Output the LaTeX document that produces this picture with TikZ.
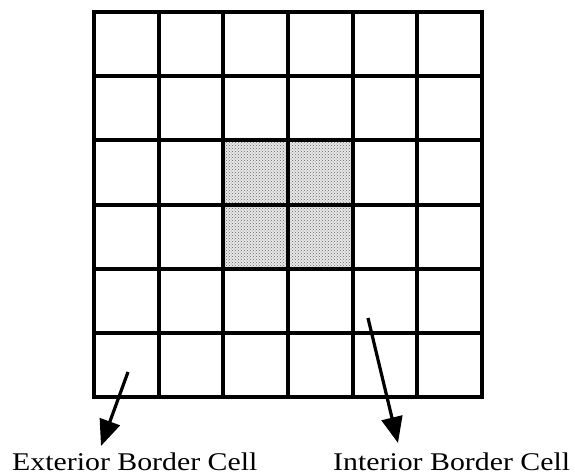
\documentclass[tikz,border=0pt]{standalone}
\usepackage{fontspec}
\setmainfont{Liberation Serif}
\newfontfamily\lblfont[FakeStretch=1.17]{Liberation Serif}
\usetikzlibrary{arrows.meta,patterns}
\begin{document}
\begin{tikzpicture}[x=1pt,y=-1pt,
  gridline/.style={line width=4pt,line cap=rect},
  outerline/.style={line width=3.4pt},
  shade/.style={fill=gray!18,postaction={pattern=crosshatch dots,pattern color=gray!80!black}},
  arr/.style={line width=3.2pt,-{Triangle[width=21pt,length=26pt]}},
  lbl/.style={font=\lblfont\fontsize{25.5}{30}\selectfont,anchor=base west,inner sep=0pt}]
\useasboundingbox (0,0) rectangle (575,474);
% shaded cells
\fill[shade] (223.3,140.4) rectangle (352.7,268.6);
% grid
\foreach \i in {1,...,5} {
  \draw[gridline] ({94+\i*64.67},12) -- ({94+\i*64.67},397);
  \draw[gridline] (94,{12+\i*64.17}) -- (482,{12+\i*64.17});
}
\draw[outerline] (94,12) rectangle (482,397);
% labels
\node[lbl] (ext) at (12,470) {Exterior Border Cell};
\node[lbl] (int) at (333,470) {Interior Border Cell};
\coordinate (es) at (128,372);
\coordinate (et) at (101,446);
\coordinate (is) at (368,318);
\coordinate (it) at (398,443);
\draw[arr] (es) -- (et);
\draw[arr] (is) -- (it);
\end{tikzpicture}
\end{document}
